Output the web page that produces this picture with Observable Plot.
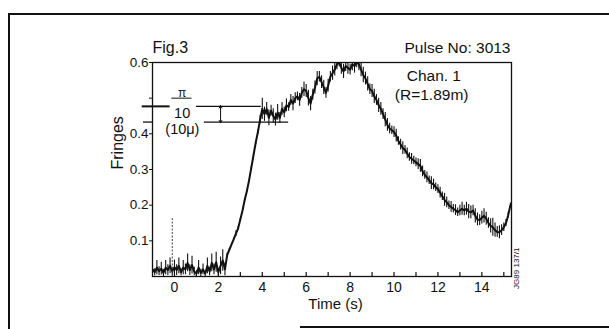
<!DOCTYPE html>
<html>
<head>
<meta charset="utf-8">
<script src="https://cdn.jsdelivr.net/npm/d3@7"></script>
<script src="https://cdn.jsdelivr.net/npm/@observablehq/plot@0.6"></script>
<style>
  body { margin: 0; background: #fff; }
  #wrap { position: relative; width: 609px; height: 329px; overflow: hidden;
          font-family: "Liberation Sans", Arial, Helvetica, sans-serif; }
  #wrap svg { position: absolute; left: 0; top: 0; }
  .edge { position: absolute; background: #111; }
</style>
</head>
<body>
<div id="wrap">
  <div class="edge" style="left:8px;top:13px;width:601px;height:2px"></div>
  <div class="edge" style="left:8px;top:13px;width:2px;height:316px"></div>
  <div class="edge" style="left:300px;top:326px;width:309px;height:2px"></div>
</div>
<script>
// Interferometer channel 1, pulse 3013: fringe count sampled every 0.1 s from t = -1.0 s
const startTime = -1.0;
const step = 0.1;
const fringes = [
  // -1.0 .. 2.3 s : baseline noise
  0.020, 0.012, 0.025, 0.015, 0.022, 0.010, 0.025, 0.018, 0.030, 0.014,
  0.026, 0.018, 0.030, 0.012, 0.025, 0.020, 0.038, 0.018, 0.032, 0.014,
  0.008, 0.025, 0.010, 0.020, 0.008, 0.030, 0.014, 0.038, 0.020, 0.040,
  0.012, 0.030, 0.045, 0.020,
  // 2.4 .. 3.9 s : ramp
  0.060, 0.075, 0.090, 0.105, 0.120, 0.135, 0.160, 0.185, 0.215, 0.240,
  0.270, 0.305, 0.340, 0.375, 0.405, 0.440,
  // 4.0 .. 4.9
  0.470, 0.455, 0.470, 0.445, 0.465, 0.450, 0.440, 0.460, 0.445, 0.470,
  // 5.0 .. 5.9
  0.460, 0.480, 0.475, 0.495, 0.485, 0.500, 0.505, 0.495, 0.515, 0.525,
  // 6.0 .. 6.9
  0.520, 0.500, 0.485, 0.510, 0.530, 0.555, 0.560, 0.545, 0.530, 0.515,
  // 7.0 .. 7.9
  0.535, 0.560, 0.570, 0.580, 0.595, 0.600, 0.585, 0.575, 0.590, 0.585,
  // 8.0 .. 8.9
  0.580, 0.595, 0.590, 0.600, 0.595, 0.580, 0.565, 0.555, 0.540, 0.525,
  // 9.0 .. 9.9
  0.520, 0.505, 0.495, 0.480, 0.470, 0.455, 0.440, 0.425, 0.415, 0.410,
  // 10.0 .. 10.9
  0.405, 0.395, 0.380, 0.370, 0.360, 0.355, 0.345, 0.335, 0.330, 0.325,
  // 11.0 .. 11.9
  0.320, 0.315, 0.310, 0.295, 0.285, 0.278, 0.270, 0.262, 0.258, 0.250,
  // 12.0 .. 12.9
  0.245, 0.235, 0.225, 0.215, 0.208, 0.200, 0.195, 0.190, 0.186, 0.180,
  // 13.0 .. 13.9
  0.185, 0.190, 0.185, 0.190, 0.182, 0.180, 0.185, 0.170, 0.160, 0.158,
  // 14.0 .. 14.9
  0.165, 0.170, 0.162, 0.150, 0.142, 0.138, 0.130, 0.125, 0.124, 0.130,
  // 15.0 .. 15.3
  0.138, 0.150, 0.172, 0.200
];
// half-height of the fast fluctuation around each sample
const spread = [
  0.015, 0.010, 0.020, 0.012, 0.018, 0.010, 0.020, 0.015, 0.022, 0.012,
  0.020, 0.015, 0.022, 0.010, 0.020, 0.015, 0.025, 0.015, 0.025, 0.012,
  0.008, 0.020, 0.010, 0.015, 0.008, 0.022, 0.012, 0.025, 0.015, 0.028,
  0.010, 0.025, 0.030, 0.018,
  0.006, 0.004, 0.003, 0.003, 0.008, 0.005, 0.003, 0.003, 0.003, 0.003,
  0.003, 0.003, 0.004, 0.005, 0.006, 0.012,
  0.030, 0.020, 0.018, 0.022, 0.015, 0.020, 0.018, 0.022, 0.015, 0.018,
  0.015, 0.018, 0.012, 0.015, 0.020, 0.015, 0.012, 0.018, 0.015, 0.020,
  0.018, 0.022, 0.020, 0.015, 0.018, 0.020, 0.015, 0.018, 0.020, 0.015,
  0.018, 0.015, 0.020, 0.018, 0.015, 0.012, 0.018, 0.020, 0.015, 0.018,
  0.015, 0.018, 0.020, 0.015, 0.018, 0.020, 0.022, 0.018, 0.020, 0.015,
  0.018, 0.020, 0.015, 0.020, 0.018, 0.015, 0.020, 0.018, 0.015, 0.012,
  0.015, 0.018, 0.012, 0.015, 0.018, 0.012, 0.015, 0.012, 0.015, 0.012,
  0.012, 0.015, 0.018, 0.015, 0.012, 0.015, 0.012, 0.018, 0.015, 0.012,
  0.012, 0.015, 0.012, 0.018, 0.015, 0.012, 0.015, 0.012, 0.015, 0.012,
  0.015, 0.018, 0.015, 0.018, 0.020, 0.018, 0.015, 0.020, 0.018, 0.015,
  0.018, 0.020, 0.018, 0.015, 0.020, 0.025, 0.020, 0.015, 0.018, 0.015,
  0.012, 0.010, 0.008, 0.006
];
// isolated pickup spike near t = 0
const spikes = [{t: -0.1, v: 0.165}];

const xTickValues = [0, 2, 4, 6, 8, 10, 12, 14];
const xMinorTicks = [0, 1, 2, 3, 4, 5, 6, 7, 8, 9, 10, 11, 12, 13, 14, 15];
const yTickValues = [0.1, 0.2, 0.3, 0.4, 0.5, 0.6];
const yTickLabels = ["0.1", "0.2", "0.3", "0.4", "", "0.6"];

// π/10 (10 µm) calibration bracket
const levelLines = [
  {v: 0.477, from: -1.47, to: -0.2, w: 2},
  {v: 0.477, from: 1.0, to: 3.95, w: 1.3},
  {v: 0.433, from: -1.41, to: -0.95, w: 1.3},
  {v: 0.433, from: 1.36, to: 5.2, w: 1.3}
];
const fractionBar = [{v: 0.5, from: -0.12, to: 0.8}];
const bracketArrows = [
  {t: 2.1, from: 0.455, to: 0.479},
  {t: 2.1, from: 0.455, to: 0.431}
];
const bracketText = [
  {t: 0.35, v: 0.514, text: "π", size: 12},
  {t: 0.35, v: 0.458, text: "10", size: 14.5},
  {t: 0.36, v: 0.412, text: "(10μ)", size: 14.5}
];

const samples = fringes.map((v, i) => ({t: startTime + i * step, v, s: spread[i]}));
const labelOf = new Map(yTickValues.map((d, i) => [d, yTickLabels[i]]));
const ink = "#111";

const chart = Plot.plot({
  width: 609,
  height: 329,
  marginLeft: 152,
  marginRight: 98,
  marginTop: 62,
  marginBottom: 53,
  style: {fontFamily: "'Liberation Sans', Arial, Helvetica, sans-serif", fontSize: "14px", color: ink, background: "transparent"},
  x: {domain: [-1, 15.35]},
  y: {domain: [0, 0.6]},
  marks: [
    Plot.ruleX(samples, {x: "t", y1: d => d.v - d.s, y2: d => d.v + d.s, stroke: ink, strokeWidth: 1.1, clip: true}),
    Plot.line(samples, {x: "t", y: "v", stroke: ink, strokeWidth: 2, clip: true}),
    Plot.ruleX(spikes, {x: "t", y1: 0, y2: "v", stroke: "#444", strokeWidth: 1, strokeDasharray: "2,1.5"}),
    Plot.ruleX(xMinorTicks, {x: d => d, y1: 0, y2: 0.011, stroke: ink, strokeWidth: 1.2}),
    Plot.ruleY(levelLines, {y: "v", x1: "from", x2: "to", stroke: ink, strokeWidth: "w"}),
    Plot.ruleY(fractionBar, {y: "v", x1: "from", x2: "to", stroke: ink, strokeWidth: 1}),
    Plot.arrow(bracketArrows, {x1: "t", x2: "t", y1: "from", y2: "to", stroke: ink, strokeWidth: 1, headLength: 4}),
    Plot.text(bracketText, {x: "t", y: "v", text: "text", fontSize: "size", lineAnchor: "middle", fill: ink}),
    Plot.axisX(xTickValues, {tickSize: 0, tickPadding: 6, label: null, fontSize: 14}),
    Plot.axisY(yTickValues, {tickSize: 3, tickPadding: 1, label: null, fontSize: 13.5, tickFormat: d => labelOf.get(d)}),
    Plot.frame({stroke: ink, strokeWidth: 1.3}),
    Plot.text(["Fringes"], {frameAnchor: "left", dx: -35, rotate: -90, lineAnchor: "middle", fontSize: 16, fill: ink}),
    Plot.text(["Time (s)"], {frameAnchor: "bottom", dx: 3.5, dy: 28, lineAnchor: "middle", fontSize: 15, fill: ink}),
    Plot.text(["Fig.3"], {frameAnchor: "top-left", textAnchor: "start", lineAnchor: "middle", dy: -14.5, fontSize: 16, fill: ink}),
    Plot.text(["Pulse No: 3013"], {frameAnchor: "top-right", textAnchor: "end", lineAnchor: "middle", dx: -1, dy: -14.5, fontSize: 15.5, fill: ink}),
    Plot.text(["Chan. 1"], {frameAnchor: "top-right", lineAnchor: "middle", dx: -50.5, dy: 14, fontSize: 15.5, fill: ink}),
    Plot.text(["(R=1.89m)"], {frameAnchor: "top-right", lineAnchor: "middle", dx: -43, dy: 32.5, fontSize: 15.5, fill: ink}),
    Plot.text(["JG89 137/1"], {frameAnchor: "bottom-right", lineAnchor: "middle", dx: 5, dy: -29, rotate: -90, fontSize: 8, fill: ink})
  ]
});
document.getElementById("wrap").prepend(chart);
</script>
</body>
</html>
